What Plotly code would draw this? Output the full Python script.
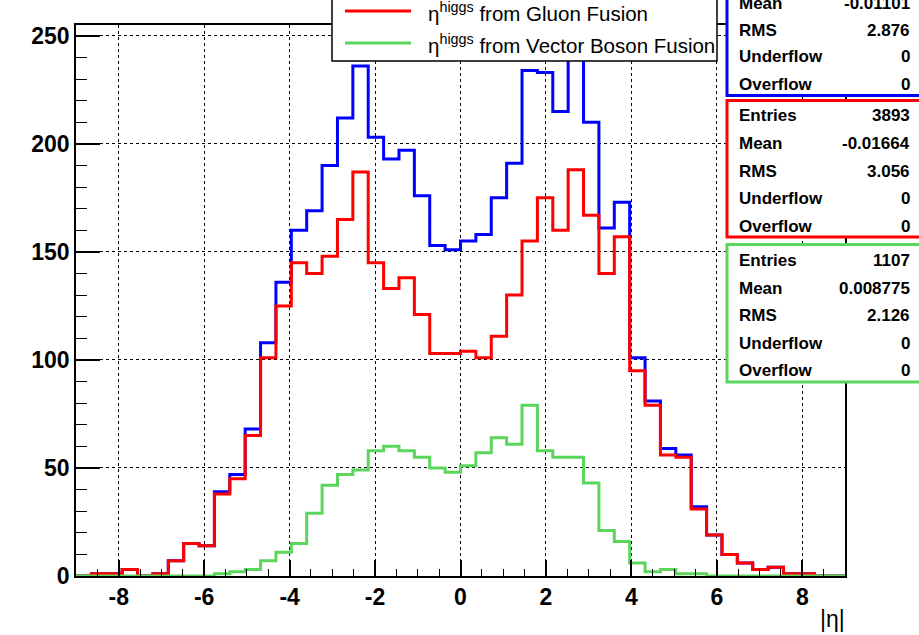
import numpy as np
import plotly.graph_objects as go

# ---------------- data ----------------
NBINS = 50
XMIN, XMAX = -9.0, 9.0

total_counts = [0, 1, 1, 3, 0, 1, 7, 15, 14, 39,
                47, 68, 108, 136, 160, 169, 190, 212, 236, 203,
                193, 197, 176, 153, 151, 155, 158, 175, 191, 234,
                233, 215, 243, 210, 161, 173, 101, 81, 59, 56,
                32, 19, 10, 6, 3, 4, 1, 1, 0, 0]

gluon_counts = [0, 1, 1, 3, 0, 1, 7, 15, 14, 38,
                45, 65, 101, 125, 145, 140, 148, 165, 187, 145,
                133, 138, 121, 103, 103, 104, 101, 111, 130, 155,
                175, 160, 188, 167, 140, 157, 95, 79, 56, 55,
                31, 19, 10, 6, 3, 4, 1, 1, 0, 0]

vbf_counts = [0, 0, 0, 0, 0, 0, 0, 0, 0, 1,
              2, 3, 7, 11, 15, 29, 42, 47, 49, 58,
              60, 58, 55, 50, 48, 51, 57, 64, 61, 79,
              58, 55, 55, 43, 21, 16, 6, 2, 3, 1,
              1, 0, 0, 0, 0, 0, 0, 0, 0, 0]

x_tickvals = [-8, -6, -4, -2, 0, 2, 4, 6, 8]
x_ticktext = ["-8", "-6", "-4", "-2", "0", "2", "4", "6", "8"]
y_tickvals = [0, 50, 100, 150, 200, 250]
y_ticktext = ["0", "50", "100", "150", "200", "250"]

legend_labels = ["η<sup>higgs</sup> from Gluon Fusion",
                 "η<sup>higgs</sup> from Vector Boson Fusion"]

stat_names = ["Entries", "Mean", "RMS", "Underflow", "Overflow"]
total_stats = ["5000", "-0.01101", "2.876", "0", "0"]
gluon_stats = ["3893", "-0.01664", "3.056", "0", "0"]
vbf_stats = ["1107", "0.008775", "2.126", "0", "0"]

y_max = 255
x_title = "|η|"

BLUE = "#0000ff"
RED = "#ff0000"
GREEN = "#5cd55c"

# ---------------- geometry helpers ----------------
W, H = 919, 635
L, R, T, B = 76, 845, 25, 576


def px(x):
    return (x - L) / (R - L)


def py(y):
    return (B - y) / (B - T)


edges = np.linspace(XMIN, XMAX, NBINS + 1)


def step(counts):
    xs = [edges[0]] + list(edges) + [edges[-1]]
    ys = [0] + list(counts) + [counts[-1], 0]
    return xs, ys


fig = go.Figure()
for counts, col in [(total_counts, BLUE), (gluon_counts, RED), (vbf_counts, GREEN)]:
    xs, ys = step(counts)
    fig.add_trace(go.Scatter(x=xs, y=ys, mode="lines", line_shape="hv",
                             line=dict(color=col, width=3), showlegend=False,
                             hoverinfo="skip"))

shapes = []
annotations = []
FONT = "Liberation Sans"

# legend box (extends above the visible area)
shapes.append(dict(type="rect", xref="paper", yref="paper",
                   x0=px(332), x1=px(717), y0=py(61), y1=py(-60),
                   line=dict(color="black", width=1.5), fillcolor="white",
                   layer="above"))
for lab, col, yy in [(legend_labels[0], RED, 11), (legend_labels[1], GREEN, 43)]:
    shapes.append(dict(type="line", xref="paper", yref="paper",
                       x0=px(345), x1=px(411), y0=py(yy), y1=py(yy),
                       line=dict(color=col, width=3), layer="above"))
    annotations.append(dict(xref="paper", yref="paper", x=px(426), y=py(yy + 1),
                            text=lab, showarrow=False, xanchor="left",
                            yanchor="middle",
                            font=dict(family=FONT, size=20.5, color="black")))

# stats boxes
boxes = [
    (BLUE, -45, 95.5, total_stats, [-24.5, 3, 30.7, 57, 84.5]),
    (RED, 100.5, 237, gluon_stats, [116, 143.5, 171, 198.5, 226]),
    (GREEN, 244.5, 382, vbf_stats, [260.5, 288, 315.5, 343, 370.5]),
]
for col, top, bot, vals, rows in boxes:
    shapes.append(dict(type="rect", xref="paper", yref="paper",
                       x0=px(727), x1=px(935), y0=py(bot), y1=py(top),
                       line=dict(color=col, width=3), fillcolor="white",
                       layer="above"))
    for name, val, yy in zip(stat_names, vals, rows):
        if yy < -8:
            continue
        annotations.append(dict(xref="paper", yref="paper", x=px(737), y=py(yy),
                                text=name, showarrow=False, xanchor="left",
                                yanchor="middle",
                                font=dict(family=FONT, size=17, color="black",
                                          weight="bold")))
        annotations.append(dict(xref="paper", yref="paper", x=px(912), y=py(yy),
                                text=val, showarrow=False, xanchor="right",
                                yanchor="middle",
                                font=dict(family=FONT, size=17, color="black",
                                          weight="bold")))

# x axis title
annotations.append(dict(xref="paper", yref="paper", x=px(847), y=py(619),
                        text=x_title, showarrow=False, xanchor="right",
                        yanchor="middle",
                        font=dict(family=FONT, size=23, color="black")))

fig.update_layout(
    width=W, height=H,
    margin=dict(l=L, r=W - R, t=T, b=H - B),
    paper_bgcolor="white", plot_bgcolor="white",
    shapes=shapes, annotations=annotations,
    showlegend=False,
)
fig.update_xaxes(range=[XMIN, XMAX], tickmode="array",
                 tickvals=x_tickvals, ticktext=x_ticktext,
                 ticks="inside", ticklen=16, tickwidth=1.5, tickcolor="black",
                 showline=True, linecolor="black", linewidth=1.5, mirror=True,
                 showgrid=True, gridcolor="black", griddash="dot", gridwidth=1,
                 zeroline=False,
                 minor=dict(dtick=0.5, tick0=0, ticks="inside", ticklen=7,
                            tickcolor="black", tickwidth=1, showgrid=False),
                 tickfont=dict(family=FONT, size=23, color="black", weight="bold"))
fig.update_yaxes(range=[0, y_max], tickmode="array",
                 tickvals=y_tickvals, ticktext=y_ticktext,
                 ticks="inside", ticklen=24, tickwidth=1.5, tickcolor="black",
                 showline=True, linecolor="black", linewidth=1.5, mirror=True,
                 showgrid=True, gridcolor="black", griddash="dot", gridwidth=1,
                 zeroline=False,
                 minor=dict(dtick=10, tick0=0, ticks="inside", ticklen=11,
                            tickcolor="black", tickwidth=1, showgrid=False),
                 tickfont=dict(family=FONT, size=23, color="black", weight="bold"))

fig.write_html("out.html", config={"displayModeBar": False},
               post_script="document.body.style.margin='0';"
                           "document.body.style.overflow='hidden';")
